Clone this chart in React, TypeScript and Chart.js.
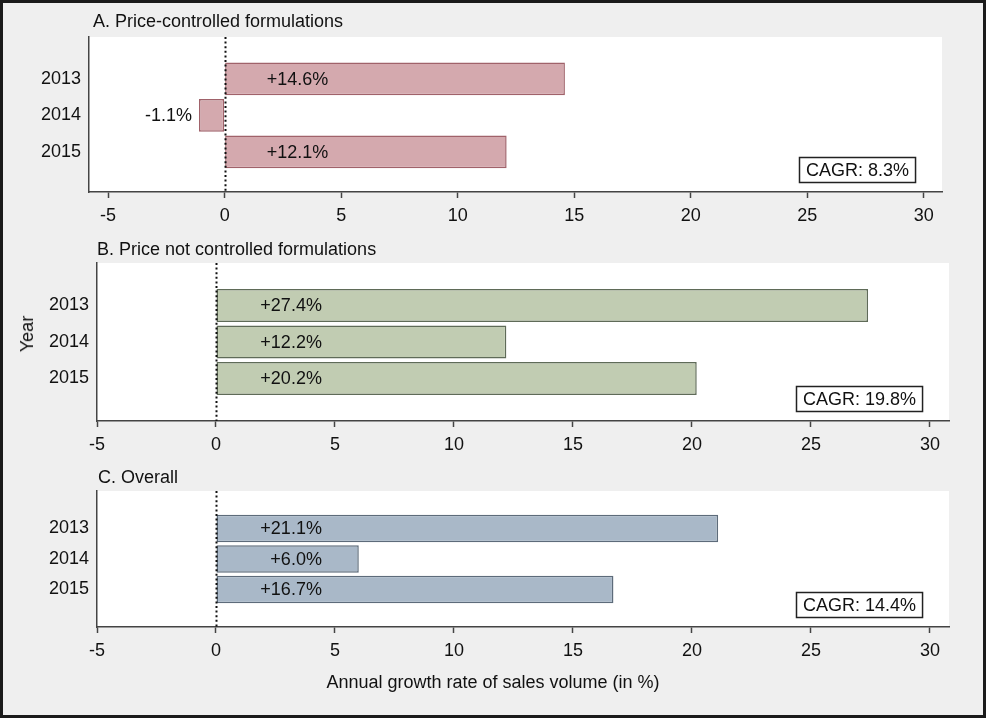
import React, { useEffect, useRef } from "react";
import { Chart, registerables } from "chart.js";

Chart.register(...registerables);

const YEARS = ["2013", "2014", "2015"];
const X_TICKS = [-5, 0, 5, 10, 15, 20, 25, 30];
const PRICE_CONTROLLED = [14.6, -1.1, 12.1];
const PRICE_NOT_CONTROLLED = [27.4, 12.2, 20.2];
const OVERALL = [21.1, 6.0, 16.7];
const CAGR = [8.3, 19.8, 14.4];
const PANEL_TITLES = [
  "A. Price-controlled formulations",
  "B. Price not controlled formulations",
  "C. Overall",
];
const Y_AXIS_TITLE = "Year";
const X_AXIS_TITLE = "Annual growth rate of sales volume (in %)";

const FONT_FAMILY = "'Liberation Sans', Arial, Helvetica, sans-serif";
const TEXT = "#111111";
const AXIS = "#444444";

type PanelProps = {
  title: string;
  values: number[];
  cagr: number;
  fill: string;
  stroke: string;
  canvasTop: number;
  canvasHeight: number;
  pad: { top: number; left: number; right: number; bottom: number };
  yAxisWidth: number;
  xMin: number;
  xMax: number;
  yMin: number;
  yMax: number;
  titleDx: number;
  titleDy: number;
};

function fmt(v: number): string {
  return (v > 0 ? "+" : "") + v.toFixed(1) + "%";
}

function Panel(p: PanelProps) {
  const ref = useRef<HTMLCanvasElement | null>(null);

  useEffect(() => {
    if (!ref.current) return;
    const font = `18px ${FONT_FAMILY}`;
    const decor = {
      id: "panelDecor",
      beforeDraw(chart: any) {
        const { ctx, chartArea } = chart;
        ctx.save();
        ctx.fillStyle = "#ffffff";
        ctx.fillRect(
          chartArea.left,
          chartArea.top,
          chartArea.right - chartArea.left,
          chartArea.bottom - chartArea.top
        );
        ctx.restore();
      },
      afterDatasetsDraw(chart: any) {
        const { ctx, chartArea, scales } = chart;
        const xs = scales.x;
        const ys = scales.y;
        ctx.save();
        // dotted zero line
        const x0 = Math.round(xs.getPixelForValue(0)) + 0.5;
        ctx.strokeStyle = "#111";
        ctx.lineWidth = 2;
        ctx.setLineDash([2, 2.6]);
        ctx.beginPath();
        ctx.moveTo(x0, chartArea.top);
        ctx.lineTo(x0, chartArea.bottom);
        ctx.stroke();
        ctx.setLineDash([]);
        // value labels
        ctx.font = font;
        ctx.fillStyle = TEXT;
        ctx.textBaseline = "middle";
        p.values.forEach((v, i) => {
          const y = ys.getPixelForValue(i + 1) + 1;
          ctx.textAlign = "right";
          const x = v >= 0 ? xs.getPixelForValue(4.45) : xs.getPixelForValue(v - 0.3);
          ctx.fillText(fmt(v), x, y);
        });
        ctx.restore();
      },
      afterDraw(chart: any) {
        const { ctx, chartArea } = chart;
        ctx.save();
        ctx.font = font;
        ctx.fillStyle = TEXT;
        ctx.textBaseline = "middle";
        ctx.textAlign = "left";
        ctx.fillText(p.title, chartArea.left + p.titleDx, chartArea.top - p.titleDy);
        // CAGR box
        const text = `CAGR: ${p.cagr}%`;
        const w = ctx.measureText(text).width;
        const bw = w + 13;
        const bh = 25;
        const bx = Math.round(chartArea.right - 27 - bw) + 0.5;
        const by = Math.round(chartArea.bottom - 10 - bh) + 0.5;
        ctx.fillStyle = "#ffffff";
        ctx.fillRect(bx, by, bw, bh);
        ctx.strokeStyle = "#222";
        ctx.lineWidth = 1.5;
        ctx.strokeRect(bx, by, bw, bh);
        ctx.fillStyle = TEXT;
        ctx.fillText(text, bx + 6.5, by + bh / 2 + 1);
        ctx.restore();
      },
    };

    const chart = new Chart(ref.current, {
      type: "bar",
      data: {
        datasets: [
          {
            data: p.values.map((v, i) => ({ x: v, y: i + 1 })),
            backgroundColor: p.fill,
            borderColor: p.stroke,
            borderWidth: 1.5,
            borderSkipped: false,
            barPercentage: 0.9,
            categoryPercentage: 1,
          } as any,
        ],
      },
      options: {
        indexAxis: "y",
        animation: false,
        responsive: false,
        devicePixelRatio: 1,
        events: [],
        layout: { padding: p.pad },
        plugins: {
          legend: { display: false },
          tooltip: { enabled: false },
          title: { display: false },
        },
        scales: {
          x: {
            type: "linear",
            offset: false,
            min: p.xMin,
            max: p.xMax,
            afterBuildTicks: (s: any) => {
              s.ticks = X_TICKS.map((v) => ({ value: v }));
            },
            afterFit: (s: any) => {
              s.height = 36;
            },
            grid: {
              display: true,
              offset: false,
              drawOnChartArea: false,
              drawTicks: true,
              tickLength: 6,
              tickColor: AXIS,
              tickWidth: 1.5,
            },
            border: { display: true, color: AXIS, width: 1.5 },
            ticks: {
              font: { family: FONT_FAMILY, size: 18 },
              color: TEXT,
              padding: 7,
              maxRotation: 0,
              autoSkip: false,
              callback: (v: any) => String(v),
            },
          },
          y: {
            type: "linear",
            offset: false,
            reverse: true,
            min: p.yMin,
            max: p.yMax,
            afterBuildTicks: (s: any) => {
              s.ticks = YEARS.map((_, i) => ({ value: i + 1 }));
            },
            afterFit: (s: any) => {
              s.width = p.yAxisWidth;
            },
            grid: { display: false, drawTicks: false, offset: false },
            border: { display: true, color: AXIS, width: 1.5 },
            ticks: {
              font: { family: FONT_FAMILY, size: 18 },
              color: TEXT,
              padding: 8,
              autoSkip: false,
              callback: (v: any) => YEARS[Math.round(Number(v)) - 1] ?? "",
            },
          },
        },
      } as any,
      plugins: [decor as any],
    });
    return () => chart.destroy();
  }, []);

  return (
    <canvas
      ref={ref}
      width={986}
      height={p.canvasHeight}
      style={{
        position: "absolute",
        left: 0,
        top: p.canvasTop,
        width: 986,
        height: p.canvasHeight,
      }}
    />
  );
}

export default function App() {
  useEffect(() => {
    document.body.style.margin = "0";
  }, []);

  return (
    <div
      style={{
        position: "relative",
        width: 986,
        height: 718,
        background: "#efefef",
        fontFamily: FONT_FAMILY,
        overflow: "hidden",
      }}
    >
      <Panel
        title={PANEL_TITLES[0]}
        values={PRICE_CONTROLLED}
        cagr={CAGR[0]}
        fill="#d4a9ae"
        stroke="#a0626a"
        canvasTop={0}
        canvasHeight={232}
        pad={{ top: 37, left: 0, right: 44, bottom: 4 }}
        yAxisWidth={89}
        xMin={-5.82}
        xMax={30.78}
        yMin={-0.15}
        yMax={4.1}
        titleDx={4}
        titleDy={15}
      />
      <Panel
        title={PANEL_TITLES[1]}
        values={PRICE_NOT_CONTROLLED}
        cagr={CAGR[1]}
        fill="#c1ccb2"
        stroke="#5f6b58"
        canvasTop={232}
        canvasHeight={228}
        pad={{ top: 31, left: 0, right: 37, bottom: 3 }}
        yAxisWidth={97}
        xMin={-5}
        xMax={30.8}
        yMin={-0.164}
        yMax={4.164}
        titleDx={0}
        titleDy={13}
      />
      <Panel
        title={PANEL_TITLES[2]}
        values={OVERALL}
        cagr={CAGR[2]}
        fill="#a9b8c8"
        stroke="#5d6b7a"
        canvasTop={460}
        canvasHeight={258}
        pad={{ top: 31, left: 0, right: 37, bottom: 55 }}
        yAxisWidth={97}
        xMin={-5}
        xMax={30.8}
        yMin={-0.23}
        yMax={4.23}
        titleDx={1}
        titleDy={13}
      />
      <div
        style={{
          position: "absolute",
          left: 27,
          top: 334,
          transform: "translate(-50%, -50%) rotate(-90deg)",
          fontSize: 18,
          color: TEXT,
          whiteSpace: "nowrap",
          lineHeight: "20px",
        }}
      >
        {Y_AXIS_TITLE}
      </div>
      <div
        style={{
          position: "absolute",
          left: 493,
          top: 682,
          transform: "translate(-50%, -50%)",
          fontSize: 18,
          color: TEXT,
          whiteSpace: "nowrap",
          lineHeight: "20px",
        }}
      >
        {X_AXIS_TITLE}
      </div>
      <div
        style={{
          position: "absolute",
          inset: 0,
          border: "3px solid #1a1a1a",
          boxSizing: "border-box",
          pointerEvents: "none",
        }}
      />
    </div>
  );
}
